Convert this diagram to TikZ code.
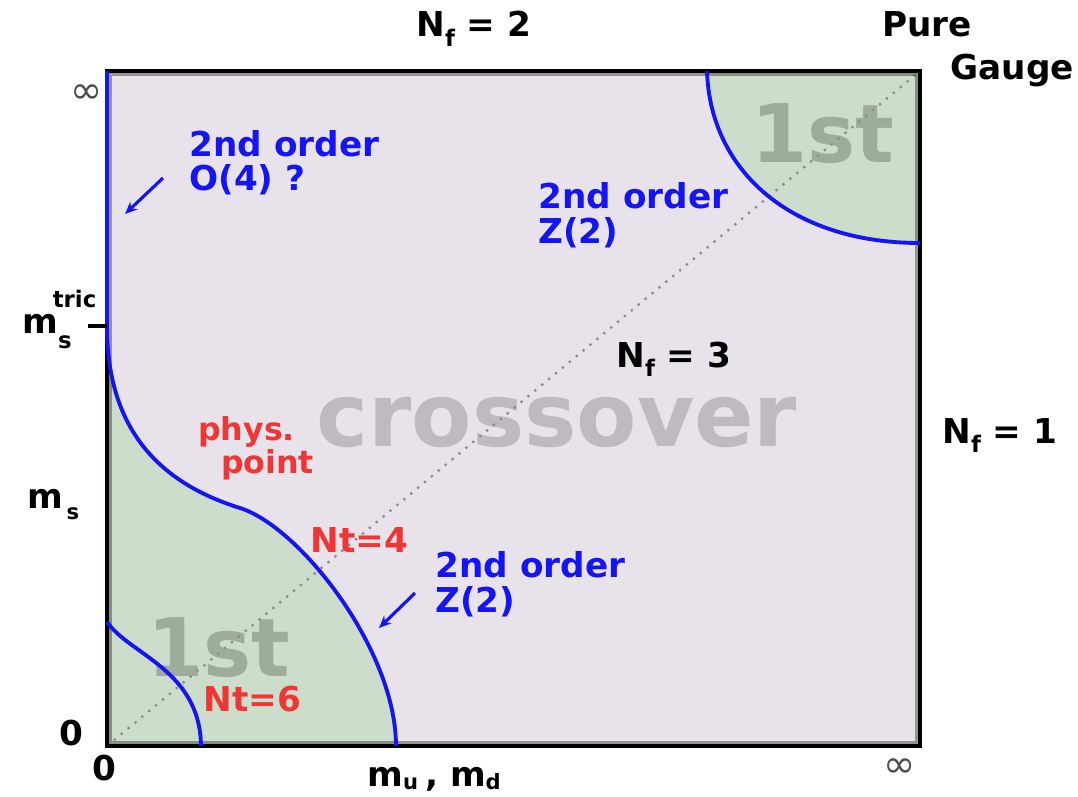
\documentclass[tikz,border=0pt]{standalone}
\usepackage{fontspec}
\setmainfont{DejaVu Sans}
\newfontfamily\symfont{DejaVu Sans}
\usetikzlibrary{arrows.meta,positioning}
\definecolor{lilac}{HTML}{E8E2EA}
\definecolor{sage}{HTML}{CCDDCB}
\definecolor{linecol}{HTML}{1414F5}
\definecolor{ptred}{HTML}{F03535}
\definecolor{faintgray}{HTML}{9DAC9B}
\definecolor{haze}{HTML}{BFBAC1}
\definecolor{dotgray}{HTML}{8C8C8C}
\newcommand{\sml}{\fontsize{13}{13}\selectfont}
\newcommand{\nflav}[1]{N\raisebox{-5.5pt}{\sml f} = #1}
\newcommand{\lowsub}[2][3pt]{\raisebox{-#1}{\fontsize{12}{12}\selectfont #2}}
\tikzset{
 lbl/.style={font=\fontsize{19.5}{19.5}\selectfont\bfseries,inner sep=0pt,anchor=base west},
 order/.style={lbl,text=linecol,align=left},
 ptlbl/.style={lbl,text=ptred},
 ghost/.style={inner sep=0pt,anchor=base west,font=\fontsize{46}{46}\selectfont\bfseries,text=faintgray},
 inf/.style={inner sep=0pt,font=\symfont\fontsize{22}{22}\selectfont,text=black!70},
 phase/.style={draw=linecol,line width=2.2pt},
 diag/.style={draw=dotgray,line width=1.3pt,dash pattern=on 1.3pt off 3.8pt},
 pointer/.style={draw=linecol,line width=1.8pt,-{Stealth[length=7pt,width=6pt]}},
 tick/.style={draw=black,line width=2pt}
}

\begin{document}
\begin{tikzpicture}[x=0.02cm,y=-0.02cm]
  \path[use as bounding box] (0,0) rectangle (1078,797);
  \coordinate (sw) at (107,746);
  \coordinate (ne) at (920,71);
  \coordinate (nw) at (107,71);
  \coordinate (tric) at (107,326);
  \coordinate (nt4pt) at (240,508);
  \coordinate (lowfoot) at (396,746);
  \coordinate (nt6top) at (107,622);
  \coordinate (nt6foot) at (201,746);
  \coordinate (pgtop) at (707,71);
  \coordinate (pgside) at (920,243);

  % phase regions
  \fill[lilac] (sw) rectangle (ne);
  \fill[sage] (sw) -- (tric) .. controls (107,420) and (150,480) .. (nt4pt)
    .. controls (300,527) and (396,650) .. (lowfoot) -- cycle;
  \fill[sage] (pgtop) .. controls (710,170) and (790,243) .. (pgside) -- (ne) -- cycle;

  \node[ghost] (firstlo) at (147,676) {1st};
  \node[ghost] (firsthi) at (751,163) {1st};
  \node[ghost,text=haze,font=\fontsize{50}{50}\selectfont\bfseries] (cross) at (316,446) {crossover};

  \draw[diag] (sw) -- (ne);

  % frame
  \draw[black,opacity=.35,line width=1.6pt] ([shift={(3.5,-3.5)}]sw) rectangle ([shift={(-3.5,3.5)}]ne);
  \draw[black,line width=2pt] (sw) rectangle (ne);

  % transition lines
  \draw[phase] (nw) -- (tric) .. controls (107,420) and (150,480) .. (nt4pt)
    .. controls (300,527) and (396,650) .. (lowfoot);
  \draw[phase] (nt6top) .. controls (130,655) and (200,670) .. (nt6foot);
  \draw[phase] (pgtop) .. controls (710,170) and (790,243) .. (pgside);

  % labels in the plane
  \node[order] (o4) at (189,191) {2nd order\\O(4) ?};
  \node[order] (z2hi) at (538,243) {2nd order\\Z(2)};
  \node[order] (z2lo) at (435,612) {2nd order\\Z(2)};
  \coordinate (o4tail) at (163,178);
  \coordinate (o4head) at (125,214);
  \coordinate (z2tail) at (415,593);
  \coordinate (z2head) at (379,628);
  \draw[pointer] (o4tail) -- (o4head);
  \draw[pointer] (z2tail) -- (z2head);

  \node[ptlbl,font=\fontsize{18}{17}\selectfont\bfseries,align=left] (phys) at (198,473) {phys.\\\hspace*{13pt}point};
  \node[ptlbl] (nt4) at (310,552) {Nt=4};
  \node[ptlbl] (nt6) at (203,711) {Nt=6};
  \node[lbl] (nf3) at (616,367) {\nflav{3}};

  % outside labels
  \node[lbl] (nf2) at (416,37) {\nflav{2}};
  \node[lbl] (nf1) at (942,443) {\nflav{1}};
  \node[lbl] (pure) at (882,37) {Pure};
  \node[lbl] (gauge) at (950,80) {Gauge};
  \node[inf] (inftop) at (87,94) {∞};
  \node[inf] (infright) at (900,768) {∞};
  \node[lbl] (zeroy) at (59,745) {0};
  \node[lbl] (zerox) at (92,780) {0};
  \node[lbl] (ms) at (27,508) {m\hspace{2pt}\lowsub[6.8pt]{s}};
  \node[lbl] (mtric) at (22,333) {m\rlap{\hspace{-3pt}\raisebox{14.7pt}{\sml tric}}\raisebox{-9pt}{\sml s}};
  \coordinate (tickend) at (88,326);
  \draw[tick] (tickend) -- (tric);
  \node[lbl] (mud) at (367,786) {m\lowsub[2pt]{u}\hspace{4pt}, m\lowsub[2pt]{d}};
\end{tikzpicture}
\end{document}
